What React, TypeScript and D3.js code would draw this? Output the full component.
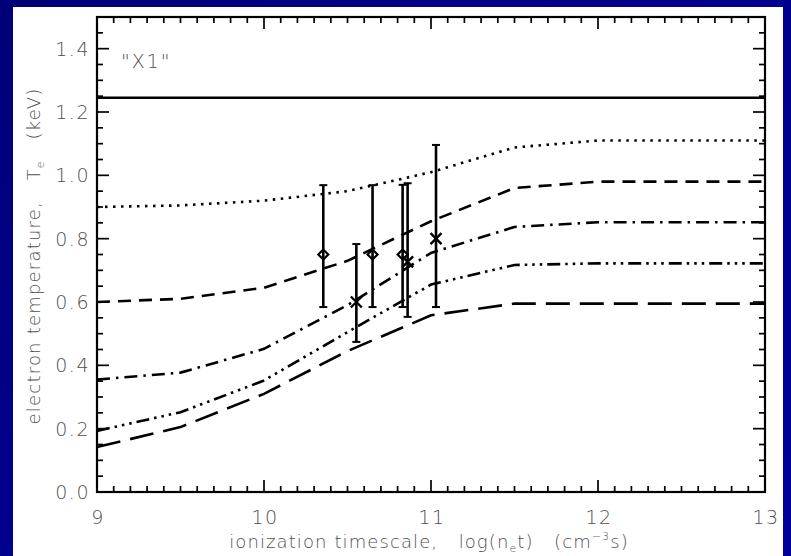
import { useEffect, useRef } from 'react';
import * as d3 from 'd3';

// ionization timescale grid, log(n_e t)
const logNt = [9, 9.5, 10, 10.5, 11, 11.5, 12, 13];

// model curves, electron temperature (keV)
const tSolid = [1.245, 1.245, 1.245, 1.245, 1.245, 1.245, 1.245, 1.245];
const tDotted = [0.9, 0.905, 0.92, 0.95, 1.01, 1.088, 1.11, 1.11];
const tDashed = [0.6, 0.61, 0.645, 0.73, 0.855, 0.96, 0.98, 0.98];
const tDashDot = [0.355, 0.377, 0.452, 0.59, 0.755, 0.837, 0.852, 0.852];
const tDash3Dot = [0.193, 0.252, 0.352, 0.505, 0.655, 0.717, 0.722, 0.722];
const tLongDash = [0.142, 0.205, 0.31, 0.445, 0.558, 0.595, 0.595, 0.595];

// measurements
const obsX = [10.355, 10.553, 10.65, 10.83, 10.86, 11.03];
const obsT = [0.75, 0.6, 0.75, 0.75, 0.727, 0.8];
const obsLo = [0.584, 0.474, 0.584, 0.584, 0.553, 0.584];
const obsHi = [0.969, 0.783, 0.969, 0.97, 0.975, 1.096];
const obsSym = ['diamond', 'cross', 'diamond', 'diamond', 'cross', 'cross'];

const xTicks = [9, 10, 11, 12, 13];
const yTicks = [0.0, 0.2, 0.4, 0.6, 0.8, 1.0, 1.2, 1.4];

const series = [
  { values: tSolid, dash: 'none' },
  { values: tDotted, dash: '2.5,5.5' },
  { values: tDashed, dash: '13,8' },
  { values: tDashDot, dash: '13,6,2.5,6' },
  { values: tDash3Dot, dash: '13,5,2.5,5,2.5,5,2.5,5' },
  { values: tLongDash, dash: '24,10' },
];

export default function App() {
  const svgRef = useRef<SVGSVGElement>(null);

  useEffect(() => {
    document.body.style.margin = '0';
    const svg = d3.select(svgRef.current);
    svg.selectAll('*').remove();

    const W = 791;
    const H = 556;
    const left = 97, right = 765, top = 17, bottom = 492;

    // slide background
    const defs = svg.append('defs');
    const grad = defs.append('linearGradient')
      .attr('id', 'bg').attr('x1', '0').attr('y1', '0').attr('x2', '1').attr('y2', '1');
    grad.append('stop').attr('offset', '0').attr('stop-color', '#000078');
    grad.append('stop').attr('offset', '0.5').attr('stop-color', '#00008e');
    grad.append('stop').attr('offset', '1').attr('stop-color', '#00009c');
    svg.append('rect').attr('width', W).attr('height', H).attr('fill', 'url(#bg)');
    svg.append('rect').attr('x', 13).attr('y', 7).attr('width', 770).attr('height', H - 7).attr('fill', '#fff');

    const x = d3.scaleLinear().domain([9, 13]).range([left, right]);
    const y = d3.scaleLinear().domain([0, 1.5]).range([bottom, top]);

    const g = svg.append('g');

    // minor/major ticks on all four sides
    const xMinor = d3.range(90, 131).map((v) => v / 10);
    xMinor.forEach((v) => {
      const major = Math.abs(v - Math.round(v)) < 1e-6;
      const len = major ? 12 : 6;
      g.append('line').attr('x1', x(v)).attr('x2', x(v)).attr('y1', bottom).attr('y2', bottom - len)
        .attr('stroke', '#000').attr('stroke-width', 1.7);
      g.append('line').attr('x1', x(v)).attr('x2', x(v)).attr('y1', top).attr('y2', top + len)
        .attr('stroke', '#000').attr('stroke-width', 1.7);
    });
    const yMinor = d3.range(0, 31).map((v) => v / 20);
    yMinor.forEach((v, i) => {
      const len = i % 4 === 0 ? 12 : 6;
      g.append('line').attr('x1', left).attr('x2', left + len).attr('y1', y(v)).attr('y2', y(v))
        .attr('stroke', '#000').attr('stroke-width', 1.7);
      g.append('line').attr('x1', right).attr('x2', right - len).attr('y1', y(v)).attr('y2', y(v))
        .attr('stroke', '#000').attr('stroke-width', 1.7);
    });

    g.append('rect').attr('x', left).attr('y', top).attr('width', right - left).attr('height', bottom - top)
      .attr('fill', 'none').attr('stroke', '#000').attr('stroke-width', 2.2);

    const font = "'DejaVu Sans', sans-serif";
    const txt = '#505050';

    g.selectAll('.xl').data(xTicks).join('text')
      .attr('x', (d) => x(d) + 1).attr('y', 524).attr('text-anchor', 'middle')
      .attr('font-family', font).attr('font-size', 19).attr('font-weight', 300).attr('fill', txt)
      .attr('letter-spacing', 1.5)
      .text((d) => String(d));

    g.selectAll('.yl').data(yTicks).join('text')
      .attr('x', 90).attr('y', (d) => y(d) + 7).attr('text-anchor', 'end')
      .attr('font-family', font).attr('font-size', 19).attr('font-weight', 300).attr('fill', txt)
      .attr('letter-spacing', 1.5)
      .text((d) => d.toFixed(1));

    // axis titles
    const xt = g.append('text').attr('x', 429).attr('y', 548).attr('text-anchor', 'middle')
      .attr('font-family', font).attr('font-size', 18).attr('font-weight', 300).attr('fill', txt)
      .attr('letter-spacing', 1.1).attr('xml:space', 'preserve');
    xt.append('tspan').text('ionization timescale,   log(n');
    xt.append('tspan').attr('font-size', 11).attr('dy', 4).text('e');
    xt.append('tspan').attr('dy', -4).text('t)   (cm');
    xt.append('tspan').attr('font-size', 11).attr('dy', -8).text('\u22123');
    xt.append('tspan').attr('dy', 8).text('s)');

    const yt = g.append('text').attr('transform', 'translate(40,256) rotate(-90)').attr('text-anchor', 'middle')
      .attr('font-family', font).attr('font-size', 18).attr('font-weight', 300).attr('fill', txt)
      .attr('letter-spacing', 1.2).attr('xml:space', 'preserve');
    yt.append('tspan').text('electron temperature,   T');
    yt.append('tspan').attr('font-size', 11).attr('dy', 4).text('e');
    yt.append('tspan').attr('dy', -4).text('   (keV)');

    g.append('text').attr('x', 121).attr('y', 68)
      .attr('font-family', font).attr('font-size', 19).attr('font-weight', 300).attr('fill', txt)
      .attr('letter-spacing', 2)
      .text('"X1"');

    // model curves
    const line = d3.line<number>().x((_, i) => x(logNt[i])).y((d) => y(d));
    series.forEach((s) => {
      g.append('path').attr('d', line(s.values)).attr('fill', 'none')
        .attr('stroke', '#000').attr('stroke-width', 2.6)
        .attr('stroke-dasharray', s.dash);
    });

    // error bars + symbols
    obsX.forEach((v, i) => {
      const cx = x(v);
      g.append('line').attr('x1', cx).attr('x2', cx).attr('y1', y(obsLo[i])).attr('y2', y(obsHi[i]))
        .attr('stroke', '#000').attr('stroke-width', 2.6);
      [obsLo[i], obsHi[i]].forEach((e) => {
        g.append('line').attr('x1', cx - 4).attr('x2', cx + 4).attr('y1', y(e)).attr('y2', y(e))
          .attr('stroke', '#000').attr('stroke-width', 2);
      });
      const cy = y(obsT[i]);
      if (obsSym[i] === 'diamond') {
        g.append('path').attr('d', `M${cx - 5},${cy}L${cx},${cy - 5}L${cx + 5},${cy}L${cx},${cy + 5}Z`)
          .attr('fill', 'none').attr('stroke', '#000').attr('stroke-width', 2.2);
      } else {
        g.append('path').attr('d', `M${cx - 5.5},${cy - 5.5}L${cx + 5.5},${cy + 5.5}M${cx - 5.5},${cy + 5.5}L${cx + 5.5},${cy - 5.5}`)
          .attr('stroke', '#000').attr('stroke-width', 2.4);
      }
    });
  }, []);

  return (
    <svg ref={svgRef} width={791} height={556} style={{ display: 'block', position: 'absolute', left: 0, top: 0 }} />
  );
}
